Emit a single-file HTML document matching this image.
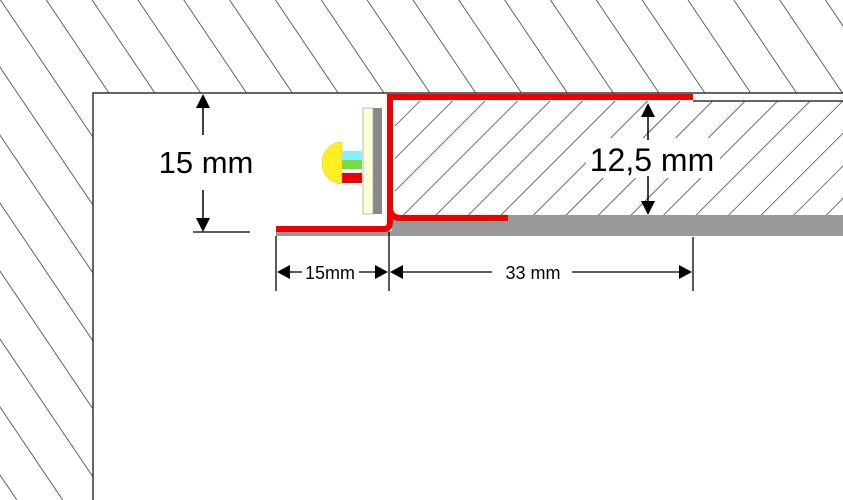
<!DOCTYPE html>
<html><head><meta charset="utf-8"><style>
html,body{margin:0;padding:0;background:#fff;}
svg{display:block;}
text{font-family:"Liberation Sans",Arial,sans-serif;fill:#000;}
</style></head><body>
<svg width="843" height="500" viewBox="0 0 843 500" xmlns="http://www.w3.org/2000/svg">
<defs>
<pattern id="h1" patternUnits="userSpaceOnUse" width="38" height="38" patternTransform="rotate(-34)">
<line x1="0" y1="0" x2="0" y2="38" stroke="#222" stroke-width="1.4"/>
</pattern>
<pattern id="h2" patternUnits="userSpaceOnUse" width="23" height="23" patternTransform="rotate(45)">
<line x1="0" y1="0" x2="0" y2="23" stroke="#222" stroke-width="1.3"/>
</pattern>
</defs>
<rect width="843" height="500" fill="#fff"/>
<path d="M0,0 H843 V93 H93 V500 H0 z" fill="url(#h1)"/>
<path d="M93,500 V93 H843" fill="none" stroke="#333" stroke-width="1.5"/>
<rect x="395" y="101" width="448" height="115" fill="#fff"/>
<rect x="395" y="101" width="448" height="115" fill="url(#h2)"/>
<line x1="693" y1="101" x2="843" y2="101" stroke="#333" stroke-width="1.5"/>
<rect x="392" y="215" width="451" height="21" fill="#999"/>
<rect x="276" y="231" width="120" height="5" fill="#999"/>
<path d="M276,229 H384 Q390,229 390,222 V97 H693" fill="none" stroke="#e00" stroke-width="6"/>
<path d="M390,210 Q392,218 400,218 H508" fill="none" stroke="#e00" stroke-width="6"/>
<rect x="373" y="108" width="9" height="106" fill="#888"/>
<rect x="363" y="108" width="10" height="106" fill="#ffffd8" stroke="#aa9" stroke-width="0.8"/>
<path d="M342,142 A20,21 0 0 0 342,184 z" fill="#ffee22" stroke="#cc4" stroke-width="0.5"/>
<rect x="342" y="151" width="20" height="9" fill="#88eeff"/>
<rect x="342" y="160" width="20" height="9" fill="#77dd44"/>
<rect x="342" y="173" width="20" height="10" fill="#e00"/>
<!-- 15 mm -->
<line x1="203" y1="105" x2="203" y2="135" stroke="#000" stroke-width="1.5"/>
<path d="M196,108 L203,94 L210,108 z" fill="#000"/>
<line x1="203" y1="190" x2="203" y2="220" stroke="#000" stroke-width="1.5"/>
<path d="M196,218 L203,232 L210,218 z" fill="#000"/>
<line x1="193" y1="232" x2="250" y2="232" stroke="#000" stroke-width="1.3"/>
<text x="206" y="173" font-size="31" text-anchor="middle">15 mm</text>
<!-- 12,5 mm -->
<rect x="586" y="138" width="134" height="40" fill="#fff"/>
<line x1="648" y1="110" x2="648" y2="140" stroke="#000" stroke-width="1.5"/>
<path d="M641,117 L648,103 L655,117 z" fill="#000"/>
<line x1="648" y1="176" x2="648" y2="205" stroke="#000" stroke-width="1.5"/>
<path d="M641,201 L648,215 L655,201 z" fill="#000"/>
<text x="652" y="171" font-size="32" text-anchor="middle">12,5 mm</text>
<!-- bottom dims -->
<line x1="276" y1="236" x2="276" y2="291" stroke="#000" stroke-width="1.3"/>
<line x1="389" y1="232" x2="389" y2="291" stroke="#000" stroke-width="1.3"/>
<line x1="693" y1="237" x2="693" y2="291" stroke="#000" stroke-width="1.3"/>
<path d="M277,272 L290,265 L290,279 z" fill="#000"/>
<line x1="290" y1="272" x2="302" y2="272" stroke="#000" stroke-width="1.3"/>
<line x1="359" y1="272" x2="376" y2="272" stroke="#000" stroke-width="1.3"/>
<path d="M388,272 L375,265 L375,279 z" fill="#000"/>
<path d="M390,272 L403,265 L403,279 z" fill="#000"/>
<line x1="403" y1="272" x2="492" y2="272" stroke="#000" stroke-width="1.3"/>
<line x1="572" y1="272" x2="680" y2="272" stroke="#000" stroke-width="1.3"/>
<path d="M692,272 L679,265 L679,279 z" fill="#000"/>
<text x="330" y="279" font-size="18" text-anchor="middle">15mm</text>
<text x="533" y="279" font-size="18" text-anchor="middle">33 mm</text>
</svg>
</body></html>
